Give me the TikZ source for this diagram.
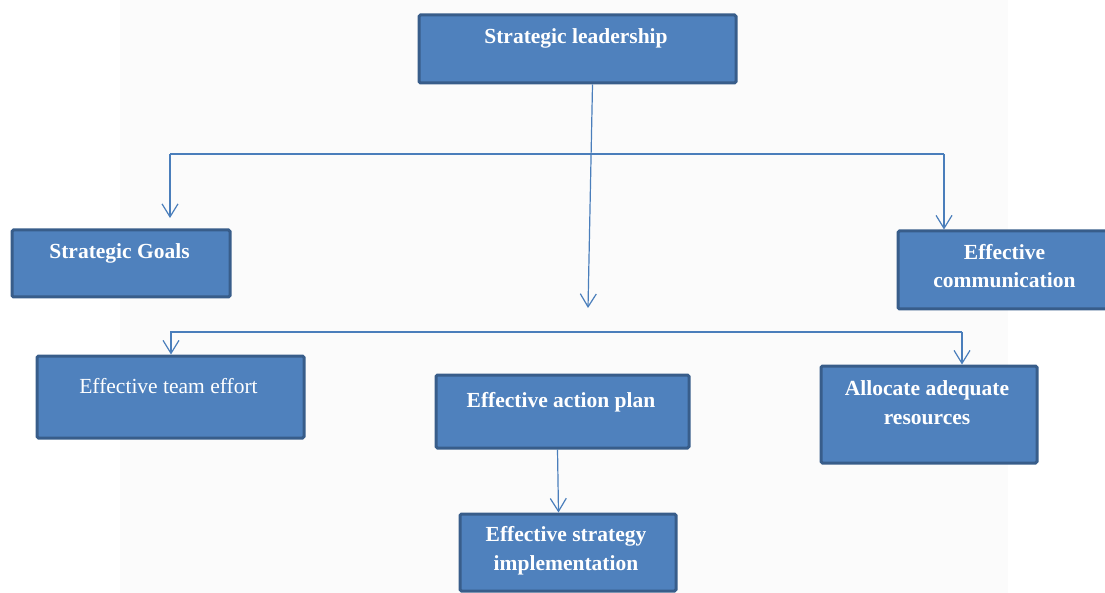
\documentclass[tikz,border=0pt]{standalone}
\usepackage{fontspec}
\setmainfont{Liberation Serif}
\usetikzlibrary{arrows.meta}
\definecolor{boxfill}{RGB}{79,129,189}
\definecolor{boxline}{RGB}{56,93,138}
\definecolor{linkcol}{RGB}{74,126,187}
\definecolor{bgpanel}{RGB}{251,251,251}
\begin{document}
\begin{tikzpicture}[x=1pt,y=-1pt,
 box/.style={draw=boxline, fill=boxfill, line width=3pt, rounded corners=1.5pt, anchor=north west, inner sep=0pt},
 txt/.style={text=white, font=\fontsize{21.5}{28.5}\selectfont\bfseries, align=center, anchor=base, inner sep=0pt},
 txtreg/.style={txt, font=\fontsize{21.5}{28.5}\selectfont},
 link/.style={draw=linkcol, line width=1.2pt},
 tip/.style={-{Straight Barb[length=13pt,width=16pt,line width=1.2pt]}}
]
\useasboundingbox (0,0) rectangle (1105,593);
\fill[bgpanel] (120,0) rectangle (1008,593);

\node[box, minimum width=317pt, minimum height=68pt] (sl) at (417.5,13.5) {};
\node[txt] (slt) at (576,44) {Strategic leadership};

\node[box, minimum width=218pt, minimum height=67pt] (sg) at (10.5,228.5) {};
\node[txt] (sgt) at (119.5,259) {Strategic Goals};

\node[box, minimum width=215pt, minimum height=78pt] (ec) at (896.5,229.5) {};
\node[txt] (ect) at (1004.5,288) {Effective\\communication};

\node[box, minimum width=267pt, minimum height=82pt] (te) at (35.5,354.5) {};
\node[txtreg] (tet) at (168.5,393) {Effective team effort};

\node[box, minimum width=253pt, minimum height=73pt] (ap) at (434.5,373.5) {};
\node[txt] (apt) at (561,407) {Effective action plan};

\node[box, minimum width=216pt, minimum height=97pt] (ar) at (819.5,364.5) {};
\node[txt] (art) at (927,424) {Allocate adequate\\resources};

\node[box, minimum width=216pt, minimum height=77pt] (si) at (458.5,512.5) {};
\node[txt] (sit) at (566,570) {Effective strategy\\implementation};

\coordinate (slarr) at (588,308);
\draw[link,tip] ([xshift=15pt]sl.south) -- (slarr);

\coordinate (tbL) at (170,154);
\coordinate (tbR) at (944,154);
\coordinate (sgtip) at (170,218);
\draw[link] (tbL) -- (tbR);
\draw[link,tip] (tbL) -- (sgtip);
\draw[link,tip] (tbR) -- (tbR |- ec.north);

\coordinate (bbL) at (171,332);
\coordinate (bbR) at (962,332);
\draw[link,tip] (bbR) -- (bbL) -- (bbL |- te.north);
\draw[link,tip] (bbR) -- (bbR |- ar.north);

\draw[link,tip] ([xshift=-5pt]ap.south) -- ([xshift=-9.5pt]si.north);
\end{tikzpicture}
\end{document}
